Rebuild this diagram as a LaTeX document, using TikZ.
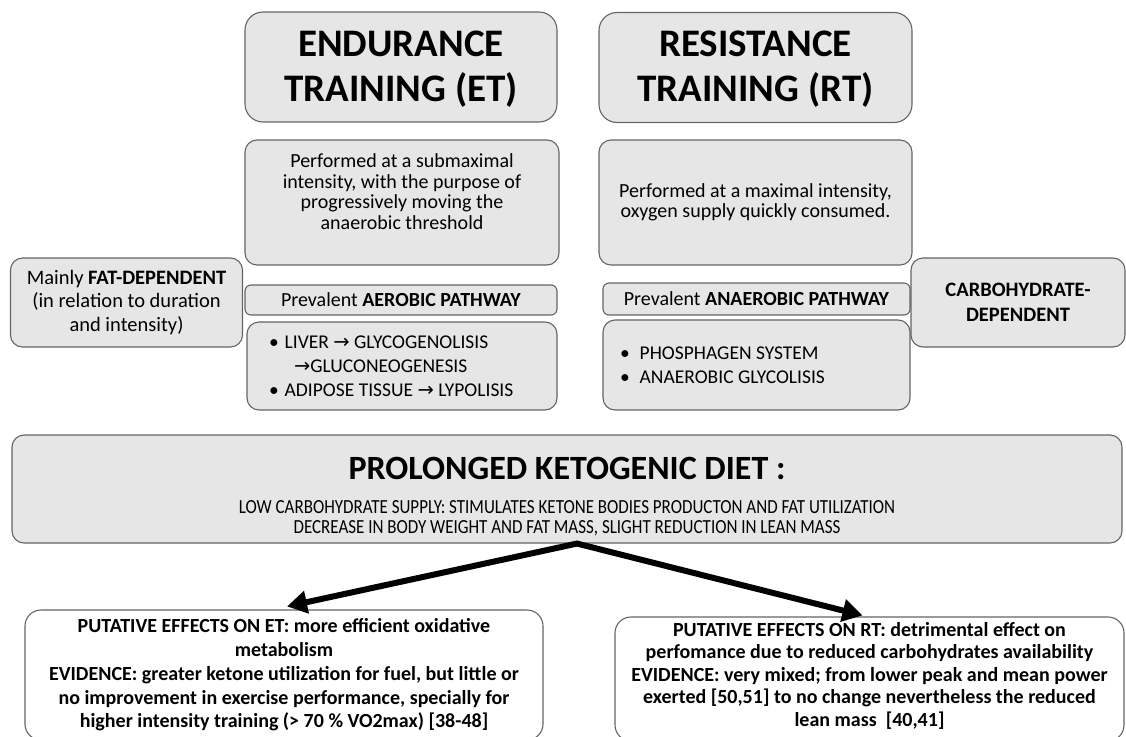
\documentclass[tikz,border=0pt]{standalone}
\usepackage{fontspec}
\setmainfont{Carlito}
\newfontfamily\symfont{DejaVu Sans}
\newfontfamily\condfont[FakeStretch=0.85]{Carlito}
\usetikzlibrary{arrows.meta}
\definecolor{boxfill}{RGB}{231,230,230}
\definecolor{boxline}{RGB}{100,100,100}
\newcommand{\ra}{{\symfont\char"2192}}
\tikzset{
  graybox/.style={draw=boxline, fill=boxfill, line width=1.1pt, rounded corners=12pt,
    align=center, inner sep=0pt},
  titlebox/.style={graybox, rounded corners=18pt, text depth=2pt,
    font=\fontsize{39}{45}\selectfont\bfseries},
  whitebox/.style={draw=boxline, fill=white, line width=1.1pt, rounded corners=16pt,
    align=center, inner sep=0pt, font=\fontsize{20}{23.7}\selectfont\bfseries},
  bigarrow/.style={line width=6pt, line join=miter,
    {Triangle[length=20pt,width=22pt]}-{Triangle[length=20pt,width=22pt]}}
}
\begin{document}
\begin{tikzpicture}[x=1pt,y=-1pt]
  \useasboundingbox (0,0) rectangle (1126,736);
  \clip (0,0) rectangle (1126,736);
  % the two kinds of training
  \node[titlebox, minimum width=312pt, minimum height=110pt] at (401,67) (etitle)
    {ENDURANCE\\TRAINING (ET)};
  \node[titlebox, minimum width=313pt, minimum height=110pt] at (755.5,67.5) (rtitle)
    {RESISTANCE\\TRAINING (RT)};
  \node[graybox, minimum width=314pt, minimum height=125pt, text depth=22pt,
    font=\fontsize{20}{20.5}\selectfont] at (402,202.5) (edesc)
    {Performed at a submaximal\\intensity, with the purpose of\\progressively moving the\\anaerobic threshold};
  \node[graybox, minimum width=313pt, minimum height=125pt,
    font=\fontsize{20}{20.5}\selectfont] at (755.5,202.5) (rdesc)
    {Performed at a maximal intensity,\\oxygen supply quickly consumed.};
  % pathways and fuel
  \node[graybox, minimum width=232pt, minimum height=89pt,
    font=\fontsize{20.5}{23.5}\selectfont] at (126.5,302.5) (fat)
    {Mainly \textbf{FAT-DEPENDENT}\\(in relation to duration\\and intensity)};
  \node[graybox, rounded corners=6pt, minimum width=312pt, minimum height=30pt,
    font=\fontsize{20}{22}\selectfont] at (401,300) (aer)
    {Prevalent \textbf{AEROBIC PATHWAY}};
  \node[graybox, minimum width=310pt, minimum height=88pt, align=flush left,
    text width=266pt, font=\fontsize{19.5}{24}\selectfont] at (402,366) (elist)
    {\textbullet\hspace{6pt}LIVER \ra{} GLYCOGENOLISIS\\
     \hspace{25pt}\ra GLUCONEOGENESIS\\
     \textbullet\hspace{6pt}ADIPOSE TISSUE \ra{} LYPOLISIS};
  \node[graybox, rounded corners=6pt, minimum width=307pt, minimum height=32pt,
    font=\fontsize{20}{22}\selectfont] at (756.5,299) (anaer)
    {Prevalent \textbf{ANAEROBIC PATHWAY}};
  \node[graybox, minimum width=307pt, minimum height=90pt, align=flush left,
    text width=273pt, font=\fontsize{19.5}{24}\selectfont] at (756.5,365) (rlist)
    {\textbullet\hspace{10pt}PHOSPHAGEN SYSTEM\\
     \textbullet\hspace{10pt}ANAEROBIC GLYCOLISIS};
  \node[graybox, minimum width=214pt, minimum height=89pt,
    font=\fontsize{20.5}{25}\selectfont\bfseries] at (1018,302.5) (carb)
    {CARBOHYDRATE-\\DEPENDENT};
  % diet
  \node[graybox, minimum width=1110pt, minimum height=108pt,
    font=\condfont\fontsize{20}{20}\selectfont] at (567,489) (keto)
    {{\setmainfont{Carlito}\fontsize{34}{38}\selectfont\bfseries\rule{0pt}{38pt}PROLONGED KETOGENIC DIET :}\\[14pt]
     LOW CARBOHYDRATE SUPPLY: STIMULATES KETONE BODIES PRODUCTON AND FAT UTILIZATION\\
     DECREASE IN BODY WEIGHT AND  FAT MASS, SLIGHT REDUCTION IN LEAN MASS};
  % effects
  \node[whitebox, minimum width=518pt, minimum height=130pt] at (284,675) (etfx)
    {PUTATIVE EFFECTS ON ET:  more efficient oxidative\\metabolism\\
     EVIDENCE: greater ketone utilization for fuel, but little or\\
     no improvement in exercise performance, specially for\\
     higher intensity training (> 70 \% VO2max) [38-48]};
  \node[whitebox, minimum width=509pt, minimum height=124pt, text depth=10pt,
    font=\fontsize{20}{22.5}\selectfont\bfseries] at (869.5,679) (rtfx)
    {PUTATIVE EFFECTS ON RT: detrimental effect on\\
     perfomance due to reduced carbohydrates availability\\
     EVIDENCE: very mixed; from lower peak and mean power\\
     exerted [50,51] to no change nevertheless the reduced\\
     lean mass~~[40,41]};
  \coordinate (split) at ([xshift=10pt]keto.south);
  \draw[bigarrow] ([xshift=3pt,yshift=3pt]etfx.north) -- (split)
    -- ([xshift=-7pt,yshift=1pt]rtfx.north);
\end{tikzpicture}
\end{document}
